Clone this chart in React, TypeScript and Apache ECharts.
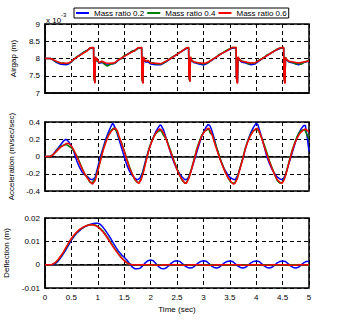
import React, { useEffect, useRef } from "react";
import * as echarts from "echarts";

const LEGEND_NAMES = ["Mass ratio 0.2", "Mass ratio 0.4", "Mass ratio 0.6"];
const COLORS = ["#0000ff", "#008000", "#ff0000"];
const X_TICKS = [0, 0.5, 1, 1.5, 2, 2.5, 3, 3.5, 4, 4.5, 5];

// Airgap (x 10^-3 m)
const AIRGAP_02: number[][] = [
  [0, 8.0], [0.1, 8.0], [0.15, 7.96], [0.2, 7.9], [0.3, 7.83], [0.4, 7.82], [0.45, 7.84], [0.5, 7.9],
  [0.55, 7.97], [0.6, 8.04], [0.7, 8.15], [0.8, 8.24], [0.85, 8.29], [0.92, 8.31], [0.925, 7.5],
  [0.935, 7.4], [0.945, 7.3], [0.955, 8.03], [0.975, 7.93], [0.99, 7.97], [1.02, 7.86], [1.08, 7.88],
  [1.15, 7.84], [1.25, 7.83], [1.32, 7.86], [1.4, 7.96], [1.5, 8.06], [1.6, 8.16], [1.7, 8.24],
  [1.76, 8.29], [1.83, 8.31], [1.835, 7.45], [1.845, 7.36], [1.855, 7.3], [1.865, 8.03], [1.88, 7.96],
  [1.9, 7.9], [1.95, 7.9], [2.0, 7.84], [2.1, 7.82], [2.2, 7.82], [2.3, 7.91], [2.4, 8.02], [2.5, 8.12],
  [2.6, 8.22], [2.68, 8.29], [2.72, 8.31], [2.725, 7.5], [2.735, 7.4], [2.745, 7.34], [2.755, 8.03],
  [2.78, 7.93], [2.82, 7.88], [2.9, 7.85], [3.0, 7.81], [3.05, 7.84], [3.15, 7.94], [3.25, 8.05],
  [3.35, 8.15], [3.45, 8.23], [3.55, 8.3], [3.62, 8.31], [3.625, 7.45], [3.635, 7.36], [3.645, 7.3],
  [3.655, 8.03], [3.68, 7.96], [3.72, 7.9], [3.8, 7.87], [3.9, 7.82], [3.98, 7.84], [4.05, 7.92],
  [4.15, 8.03], [4.25, 8.13], [4.35, 8.22], [4.45, 8.29], [4.52, 8.31], [4.525, 7.45], [4.535, 7.36],
  [4.545, 7.3], [4.555, 8.01], [4.58, 7.95], [4.62, 7.9], [4.7, 7.87], [4.8, 7.82], [4.9, 7.88], [5.0, 7.93],
];
const AIRGAP_04: number[][] = [
  [0, 8.0], [0.1, 8.0], [0.15, 7.97], [0.2, 7.92], [0.3, 7.86], [0.35, 7.87], [0.4, 7.85], [0.45, 7.86],
  [0.5, 7.91], [0.55, 7.98], [0.6, 8.05], [0.65, 8.08], [0.7, 8.14], [0.75, 8.2], [0.8, 8.23],
  [0.85, 8.3], [0.92, 8.32], [0.925, 7.5], [0.935, 7.4], [0.945, 7.3], [0.955, 8.04], [0.975, 7.92],
  [0.99, 7.98], [1.02, 7.87], [1.08, 7.92], [1.12, 7.84], [1.18, 7.78], [1.25, 7.84], [1.32, 7.86],
  [1.4, 7.98], [1.45, 8.0], [1.5, 8.08], [1.6, 8.15], [1.65, 8.22], [1.7, 8.22], [1.76, 8.3],
  [1.83, 8.32], [1.835, 7.45], [1.845, 7.36], [1.855, 7.3], [1.865, 8.04], [1.88, 7.97], [1.9, 7.93],
  [1.95, 7.94], [2.0, 7.86], [2.05, 7.88], [2.1, 7.84], [2.2, 7.84], [2.3, 7.92], [2.35, 7.98],
  [2.4, 8.03], [2.5, 8.12], [2.55, 8.18], [2.6, 8.22], [2.68, 8.31], [2.72, 8.32], [2.725, 7.5],
  [2.735, 7.4], [2.745, 7.34], [2.755, 8.04], [2.78, 7.94], [2.82, 7.9], [2.9, 7.87], [3.0, 7.84],
  [3.05, 7.86], [3.1, 7.88], [3.15, 7.96], [3.25, 8.05], [3.3, 8.12], [3.35, 8.15], [3.45, 8.25],
  [3.55, 8.32], [3.62, 8.32], [3.625, 7.45], [3.635, 7.36], [3.645, 7.3], [3.655, 8.04], [3.68, 7.98],
  [3.72, 7.93], [3.8, 7.9], [3.85, 7.84], [3.9, 7.86], [3.98, 7.87], [4.05, 7.95], [4.15, 8.03],
  [4.2, 8.1], [4.25, 8.13], [4.35, 8.23], [4.4, 8.28], [4.45, 8.3], [4.52, 8.32], [4.525, 7.45],
  [4.535, 7.36], [4.545, 7.3], [4.555, 8.04], [4.58, 7.97], [4.62, 7.91], [4.7, 7.88], [4.75, 7.84],
  [4.8, 7.86], [4.85, 7.83], [4.9, 7.89], [5.0, 7.94],
];
const AIRGAP_06: number[][] = [
  [0, 8.0], [0.1, 8.0], [0.15, 7.97], [0.2, 7.93], [0.3, 7.87], [0.4, 7.86], [0.45, 7.87], [0.5, 7.92],
  [0.55, 7.98], [0.6, 8.03], [0.7, 8.13], [0.8, 8.22], [0.85, 8.31], [0.92, 8.32], [0.925, 7.5],
  [0.935, 7.38], [0.945, 7.28], [0.955, 8.05], [0.975, 7.95], [0.99, 8.0], [1.02, 7.88], [1.08, 7.92],
  [1.15, 7.87], [1.25, 7.86], [1.32, 7.88], [1.4, 7.97], [1.5, 8.06], [1.6, 8.15], [1.7, 8.23],
  [1.76, 8.31], [1.83, 8.32], [1.835, 7.45], [1.845, 7.34], [1.855, 7.27], [1.865, 8.05], [1.88, 7.98],
  [1.9, 7.92], [1.95, 7.94], [2.0, 7.87], [2.1, 7.86], [2.2, 7.85], [2.3, 7.93], [2.4, 8.02], [2.5, 8.12],
  [2.6, 8.22], [2.68, 8.31], [2.72, 8.32], [2.725, 7.5], [2.735, 7.4], [2.745, 7.33], [2.755, 8.05],
  [2.78, 7.95], [2.82, 7.9], [2.9, 7.88], [3.0, 7.86], [3.05, 7.87], [3.15, 7.95], [3.25, 8.05],
  [3.35, 8.15], [3.45, 8.23], [3.55, 8.32], [3.62, 8.32], [3.625, 7.45], [3.635, 7.34], [3.645, 7.27],
  [3.655, 8.05], [3.68, 7.98], [3.72, 7.92], [3.8, 7.9], [3.9, 7.87], [3.98, 7.88], [4.05, 7.94],
  [4.15, 8.03], [4.25, 8.13], [4.35, 8.22], [4.45, 8.31], [4.52, 8.32], [4.525, 7.45], [4.535, 7.34],
  [4.545, 7.27], [4.555, 8.03], [4.58, 7.97], [4.62, 7.92], [4.7, 7.9], [4.8, 7.87], [4.9, 7.9], [5.0, 7.93],
];

// Acceleration (m/sec/sec)
const ACCEL_02: number[][] = [
  [0, 0], [0.1, 0], [0.15, 0.02], [0.2, 0.06], [0.25, 0.1], [0.3, 0.14], [0.35, 0.18], [0.4, 0.2],
  [0.45, 0.17], [0.5, 0.12], [0.55, 0.05], [0.6, -0.05], [0.65, -0.12], [0.7, -0.18], [0.75, -0.21],
  [0.8, -0.23], [0.85, -0.26], [0.9, -0.27], [0.95, -0.24], [1.0, -0.12], [1.05, 0.0], [1.1, 0.1],
  [1.15, 0.2], [1.2, 0.28], [1.25, 0.35], [1.28, 0.385], [1.3, 0.37], [1.35, 0.3], [1.4, 0.2],
  [1.45, 0.1], [1.5, 0.0], [1.55, -0.1], [1.6, -0.17], [1.65, -0.22], [1.7, -0.25], [1.75, -0.27],
  [1.8, -0.25], [1.85, -0.18], [1.9, -0.06], [1.95, 0.05], [2.0, 0.14], [2.05, 0.22], [2.1, 0.29],
  [2.15, 0.34], [2.18, 0.365], [2.2, 0.36], [2.25, 0.3], [2.3, 0.2], [2.35, 0.1], [2.4, 0.0],
  [2.45, -0.08], [2.5, -0.15], [2.55, -0.2], [2.6, -0.24], [2.65, -0.27], [2.7, -0.26], [2.75, -0.2],
  [2.8, -0.1], [2.85, 0.0], [2.9, 0.1], [2.95, 0.2], [3.0, 0.28], [3.05, 0.34], [3.09, 0.37],
  [3.12, 0.36], [3.15, 0.32], [3.2, 0.22], [3.25, 0.1], [3.3, 0.0], [3.35, -0.08], [3.4, -0.15],
  [3.45, -0.2], [3.5, -0.24], [3.55, -0.26], [3.6, -0.27], [3.65, -0.22], [3.7, -0.12], [3.75, -0.02],
  [3.8, 0.1], [3.85, 0.2], [3.9, 0.28], [3.95, 0.34], [4.0, 0.385], [4.03, 0.37], [4.05, 0.33],
  [4.1, 0.23], [4.15, 0.12], [4.2, 0.0], [4.25, -0.08], [4.3, -0.15], [4.35, -0.2], [4.4, -0.24],
  [4.45, -0.26], [4.5, -0.27], [4.55, -0.22], [4.6, -0.12], [4.65, -0.02], [4.7, 0.08], [4.75, 0.18],
  [4.8, 0.26], [4.85, 0.32], [4.9, 0.36], [4.93, 0.36], [4.96, 0.25], [5.0, 0.06],
];
const ACCEL_04: number[][] = [
  [0, 0], [0.1, 0], [0.15, 0.02], [0.2, 0.05], [0.25, 0.09], [0.3, 0.12], [0.35, 0.13], [0.4, 0.14],
  [0.45, 0.12], [0.5, 0.1], [0.55, 0.06], [0.6, 0.01], [0.65, -0.06], [0.7, -0.13], [0.75, -0.2],
  [0.8, -0.24], [0.85, -0.3], [0.9, -0.3], [0.95, -0.26], [1.0, -0.16], [1.05, -0.04], [1.1, 0.08],
  [1.15, 0.17], [1.2, 0.25], [1.25, 0.3], [1.3, 0.33], [1.33, 0.31], [1.37, 0.28], [1.4, 0.22],
  [1.45, 0.16], [1.5, 0.07], [1.55, -0.03], [1.6, -0.12], [1.65, -0.2], [1.7, -0.27], [1.75, -0.3],
  [1.78, -0.3], [1.82, -0.26], [1.87, -0.15], [1.92, -0.03], [1.97, 0.09], [2.02, 0.18], [2.07, 0.24],
  [2.12, 0.28], [2.17, 0.3], [2.2, 0.3], [2.25, 0.24], [2.3, 0.2], [2.35, 0.12], [2.4, 0.03],
  [2.45, -0.06], [2.5, -0.14], [2.55, -0.22], [2.6, -0.28], [2.65, -0.31], [2.68, -0.3], [2.72, -0.25],
  [2.77, -0.15], [2.82, -0.04], [2.87, 0.08], [2.92, 0.17], [2.97, 0.25], [3.02, 0.29], [3.07, 0.31],
  [3.1, 0.32], [3.13, 0.27], [3.17, 0.25], [3.22, 0.16], [3.27, 0.07], [3.32, -0.03], [3.37, -0.11],
  [3.42, -0.19], [3.47, -0.25], [3.52, -0.3], [3.57, -0.31], [3.6, -0.3], [3.64, -0.25], [3.69, -0.14],
  [3.74, -0.03], [3.79, 0.09], [3.84, 0.18], [3.89, 0.25], [3.94, 0.3], [3.99, 0.31], [4.02, 0.32],
  [4.05, 0.29], [4.1, 0.22], [4.15, 0.14], [4.2, 0.05], [4.25, -0.05], [4.3, -0.13], [4.35, -0.21],
  [4.4, -0.28], [4.45, -0.31], [4.49, -0.3], [4.53, -0.26], [4.58, -0.16], [4.63, -0.04], [4.68, 0.07],
  [4.73, 0.16], [4.78, 0.24], [4.83, 0.29], [4.88, 0.31], [4.93, 0.3], [4.97, 0.24], [5.0, 0.21],
];
const ACCEL_06: number[][] = [
  [0, 0], [0.1, 0], [0.15, 0.02], [0.2, 0.05], [0.25, 0.08], [0.3, 0.11], [0.35, 0.13], [0.4, 0.15],
  [0.45, 0.15], [0.5, 0.12], [0.55, 0.07], [0.6, 0.0], [0.65, -0.07], [0.7, -0.14], [0.75, -0.2],
  [0.8, -0.25], [0.85, -0.29], [0.9, -0.32], [0.95, -0.28], [1.0, -0.17], [1.05, -0.05], [1.1, 0.07],
  [1.15, 0.16], [1.2, 0.24], [1.25, 0.29], [1.3, 0.32], [1.33, 0.33], [1.37, 0.3], [1.4, 0.24],
  [1.45, 0.15], [1.5, 0.06], [1.55, -0.04], [1.6, -0.13], [1.65, -0.2], [1.7, -0.26], [1.75, -0.3],
  [1.78, -0.31], [1.82, -0.27], [1.87, -0.17], [1.92, -0.04], [1.97, 0.08], [2.02, 0.17], [2.07, 0.24],
  [2.12, 0.29], [2.17, 0.32], [2.2, 0.31], [2.25, 0.27], [2.3, 0.19], [2.35, 0.1], [2.4, 0.02],
  [2.45, -0.07], [2.5, -0.15], [2.55, -0.22], [2.6, -0.27], [2.65, -0.31], [2.68, -0.31], [2.72, -0.26],
  [2.77, -0.16], [2.82, -0.05], [2.87, 0.07], [2.92, 0.16], [2.97, 0.24], [3.02, 0.29], [3.07, 0.32],
  [3.1, 0.33], [3.13, 0.3], [3.17, 0.24], [3.22, 0.14], [3.27, 0.05], [3.32, -0.04], [3.37, -0.12],
  [3.42, -0.19], [3.47, -0.25], [3.52, -0.29], [3.57, -0.32], [3.6, -0.31], [3.64, -0.26], [3.69, -0.15],
  [3.74, -0.04], [3.79, 0.08], [3.84, 0.17], [3.89, 0.24], [3.94, 0.29], [3.99, 0.32], [4.02, 0.33],
  [4.05, 0.3], [4.1, 0.22], [4.15, 0.12], [4.2, 0.03], [4.25, -0.06], [4.3, -0.14], [4.35, -0.21],
  [4.4, -0.27], [4.45, -0.3], [4.49, -0.31], [4.53, -0.27], [4.58, -0.17], [4.63, -0.05], [4.68, 0.06],
  [4.73, 0.15], [4.78, 0.22], [4.83, 0.27], [4.88, 0.3], [4.93, 0.32], [4.97, 0.3], [5.0, 0.29],
];

// Deflection (m)
const DEFL_02: number[][] = [
  [0, 0], [0.15, 0], [0.2, 0.0005], [0.25, 0.0015], [0.3, 0.003], [0.35, 0.0047], [0.4, 0.0065],
  [0.45, 0.0085], [0.5, 0.0105], [0.55, 0.012], [0.6, 0.0135], [0.65, 0.0145], [0.7, 0.0155],
  [0.75, 0.0162], [0.8, 0.0168], [0.85, 0.0172], [0.9, 0.0175], [0.95, 0.0178], [1.0, 0.0178],
  [1.05, 0.0172], [1.1, 0.016], [1.15, 0.0145], [1.2, 0.0128], [1.25, 0.011], [1.3, 0.009],
  [1.35, 0.0072], [1.4, 0.0055], [1.45, 0.0042], [1.5, 0.0032], [1.55, 0.002], [1.6, 0.0005],
  [1.65, -0.001], [1.7, -0.0017], [1.75, -0.0018], [1.8, -0.0015], [1.85, -0.0005], [1.9, 0.0008],
  [1.95, 0.0017], [2.0, 0.002], [2.05, 0.0017], [2.1, 0.0005], [2.15, -0.0008], [2.2, -0.0016],
  [2.25, -0.0018], [2.3, -0.0013], [2.35, -0.0003], [2.4, 0.0008], [2.45, 0.0015], [2.5, 0.0017],
  [2.55, 0.0014], [2.6, 0.0005], [2.65, -0.0005], [2.7, -0.0012], [2.75, -0.0014], [2.8, -0.0012],
  [2.85, -0.0003], [2.9, 0.0007], [2.95, 0.0014], [3.0, 0.0017], [3.05, 0.0015], [3.1, 0.0006],
  [3.15, -0.0005], [3.2, -0.0012], [3.25, -0.0014], [3.3, -0.0011], [3.35, -0.0002], [3.4, 0.0008],
  [3.45, 0.0014], [3.5, 0.0016], [3.55, 0.0014], [3.6, 0.0005], [3.65, -0.0005], [3.7, -0.0012],
  [3.75, -0.0014], [3.8, -0.0011], [3.85, -0.0002], [3.9, 0.0008], [3.95, 0.0014], [4.0, 0.0016],
  [4.05, 0.0014], [4.1, 0.0005], [4.15, -0.0005], [4.2, -0.0012], [4.25, -0.0014], [4.3, -0.0011],
  [4.35, -0.0002], [4.4, 0.0008], [4.45, 0.0014], [4.5, 0.0016], [4.55, 0.0014], [4.6, 0.0005],
  [4.65, -0.0005], [4.7, -0.0012], [4.75, -0.0014], [4.8, -0.0011], [4.85, -0.0002], [4.9, 0.0008],
  [4.95, 0.0014], [5.0, 0.0015],
];
const DEFL_04: number[][] = [
  [0, 0], [0.13, 0], [0.2, 0.0009], [0.25, 0.002], [0.3, 0.0036], [0.35, 0.0053], [0.4, 0.0072],
  [0.45, 0.0092], [0.5, 0.011], [0.55, 0.0125], [0.6, 0.0138], [0.65, 0.0149], [0.7, 0.0157],
  [0.75, 0.0163], [0.8, 0.0168], [0.85, 0.0171], [0.9, 0.0172], [0.95, 0.017], [1.0, 0.0164],
  [1.05, 0.0155], [1.1, 0.0143], [1.15, 0.0128], [1.2, 0.0111], [1.25, 0.0093], [1.3, 0.0075],
  [1.35, 0.0059], [1.4, 0.0044], [1.45, 0.003], [1.5, 0.0019], [1.55, 0.0009], [1.6, 0.0003],
  [1.65, 0], [1.9, 0], [1.92, -0.0002], [2.05, -0.0002], [2.07, 0], [2.6, 0], [2.62, -0.0002],
  [2.72, -0.0002], [2.74, 0], [3.4, 0], [3.42, -0.0002], [3.52, -0.0002], [3.54, 0], [4.3, 0],
  [4.32, -0.0002], [4.42, -0.0002], [4.44, 0], [5.0, 0],
];
const DEFL_06: number[][] = [
  [0, 0], [0.13, 0], [0.2, 0.001], [0.25, 0.0022], [0.3, 0.0038], [0.35, 0.0055], [0.4, 0.0075],
  [0.45, 0.0095], [0.5, 0.0112], [0.55, 0.0127], [0.6, 0.014], [0.65, 0.015], [0.7, 0.0158],
  [0.75, 0.0164], [0.8, 0.0168], [0.85, 0.0171], [0.9, 0.0171], [0.95, 0.0168], [1.0, 0.0162],
  [1.05, 0.0152], [1.1, 0.014], [1.15, 0.0125], [1.2, 0.0108], [1.25, 0.009], [1.3, 0.0073],
  [1.35, 0.0057], [1.4, 0.0042], [1.45, 0.0028], [1.5, 0.0017], [1.55, 0.0008], [1.6, 0.0002],
  [1.65, 0], [2.05, 0], [2.07, -0.0003], [2.22, -0.0003], [2.24, 0], [2.55, 0], [2.57, -0.0003],
  [2.7, -0.0003], [2.72, 0], [3.0, 0], [3.02, -0.0003], [3.2, -0.0003], [3.22, 0], [3.7, 0],
  [3.72, -0.0003], [3.85, -0.0003], [3.87, 0], [4.1, 0], [4.12, -0.0003], [4.25, -0.0003],
  [4.27, 0], [4.6, 0], [4.62, -0.0003], [4.78, -0.0003], [4.8, 0], [5.0, 0],
];

const FONT = "Liberation Sans, Arial, sans-serif";

export default function App() {
  const ref = useRef<HTMLDivElement>(null);

  useEffect(() => {
    if (!ref.current) return;
    const chart = echarts.init(ref.current, null, { renderer: "svg" });
    const grids = [
      { left: 45, top: 24, width: 264, height: 69 },
      { left: 45, top: 122, width: 264, height: 69 },
      { left: 45, top: 218, width: 264, height: 70 },
    ].map((g) => ({
      ...g,
      show: true,
      borderColor: "#000",
      borderWidth: 1.5,
      backgroundColor: "#fff",
      containLabel: false,
      outerBoundsMode: "none",
    }));

    const splitLine = { show: true, lineStyle: { color: "#000", type: [4, 3], width: 1 } };
    const axisLabel = { color: "#000", fontSize: 8, fontFamily: FONT };

    const xAxes = [0, 1, 2].map((i) => ({
      type: "value",
      gridIndex: i,
      min: 0,
      max: 5,
      interval: 0.5,
      axisLine: { show: true, lineStyle: { color: "#000", width: 1.5 } },
      axisTick: { show: false },
      axisLabel: { ...axisLabel, show: i === 2, margin: 5, formatter: (v: number) => (X_TICKS.includes(v) ? String(v) : "") },
      splitLine,
      name: i === 2 ? "Time (sec)" : "",
      nameLocation: "middle",
      nameGap: 17,
      nameTextStyle: { color: "#000", fontSize: 8, fontFamily: FONT },
    }));

    const yCfg = [
      { min: 7, max: 9, interval: 0.5, name: "Airgap (m)" },
      { min: -0.4, max: 0.4, interval: 0.2, name: "Acceleration (m/sec/sec)" },
      { min: -0.01, max: 0.02, interval: 0.01, name: "Deflection (m)" },
    ];
    const yAxes = yCfg.map((c, i) => ({
      type: "value",
      gridIndex: i,
      min: c.min,
      max: c.max,
      interval: c.interval,
      axisLine: { show: true, lineStyle: { color: "#000", width: 1.5 } },
      axisTick: { show: false },
      axisLabel: { ...axisLabel, margin: 5 },
      splitLine,
      name: c.name,
      nameLocation: "middle",
      nameRotate: 90,
      nameGap: 22,
      nameTextStyle: { color: "#000", fontSize: 8, fontFamily: FONT },
    }));

    const sets = [
      [AIRGAP_02, AIRGAP_04, AIRGAP_06],
      [ACCEL_02, ACCEL_04, ACCEL_06],
      [DEFL_02, DEFL_04, DEFL_06],
    ];
    const series: any[] = [];
    sets.forEach((group, gi) => {
      group.forEach((data, si) => {
        series.push({
          type: "line",
          name: LEGEND_NAMES[si],
          xAxisIndex: gi,
          yAxisIndex: gi,
          data,
          symbol: "none",
          lineStyle: { color: COLORS[si], width: 1.5 },
          itemStyle: { color: COLORS[si] },
          z: 2 + si,
        });
      });
    });

    chart.setOption({
      animation: false,
      backgroundColor: "#fff",
      grid: grids,
      xAxis: xAxes,
      yAxis: yAxes,
      legend: {
        data: LEGEND_NAMES,
        left: 74,
        top: 8,
        padding: [0, 2, 0, 2],
        itemGap: 3,
        itemWidth: 13,
        itemHeight: 2,
        icon: "rect",
        borderColor: "#000",
        borderWidth: 1,
        backgroundColor: "#fff",
        textStyle: { color: "#000", fontSize: 8, fontFamily: FONT, lineHeight: 10 },
      },
      graphic: [
        { type: "text", left: 46, top: 16, style: { text: "x 10", fontSize: 8, fontFamily: FONT, fill: "#000" } },
        { type: "text", left: 61, top: 12, style: { text: "-3", fontSize: 6, fontFamily: FONT, fill: "#000" } },
      ],
      series,
    });
    return () => chart.dispose();
  }, []);

  return <div ref={ref} style={{ position: "fixed", left: 0, top: 0, width: 342, height: 323 }} />;
}
